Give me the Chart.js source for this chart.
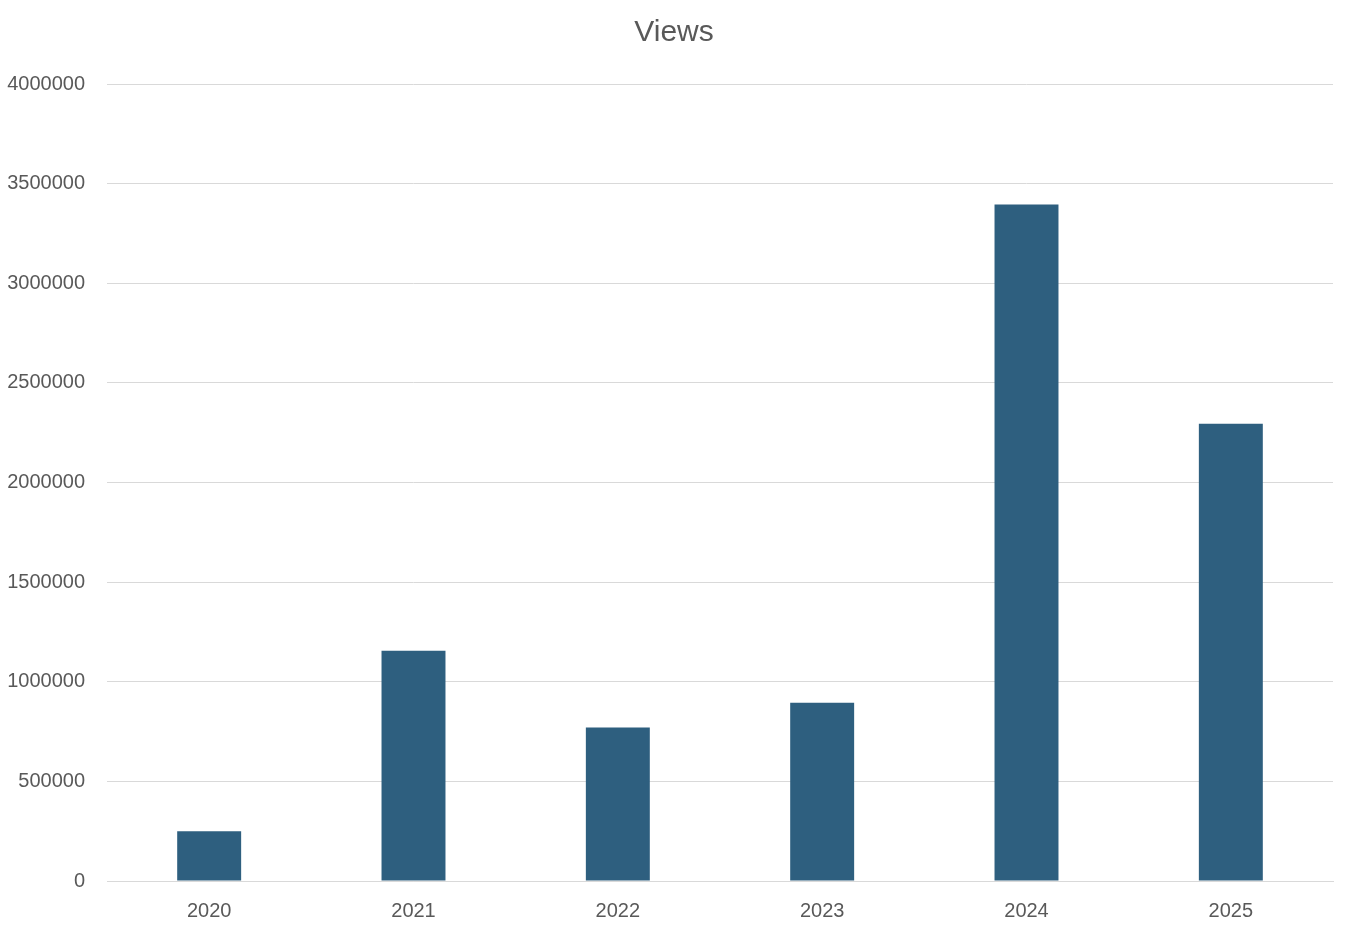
<!DOCTYPE html>
<html>
<head>
<meta charset="utf-8">
<script src="https://cdn.jsdelivr.net/npm/chart.js@4"></script>
<style>
  html, body { margin: 0; padding: 0; background: #fff; }
  #wrap { width: 1356px; height: 932px; }
</style>
</head>
<body>
<div id="wrap"><canvas id="myChart"></canvas></div>
<script>
const years = ['2020', '2021', '2022', '2023', '2024', '2025'];
const views = [250000, 1155000, 770000, 895000, 3395000, 2295000];

const ctx = document.getElementById('myChart').getContext('2d');
const chart = new Chart(ctx, {
    type: 'bar',
    data: {
        labels: years,
        datasets: [{
            label: 'Views',
            backgroundColor: '#2E5F7F',
            categoryPercentage: 1,
            barPercentage: 0.313,
            data: views
        }]
    },
    options: {
        responsive: true,
        maintainAspectRatio: false,
        animation: false,
        layout: { padding: { left: 0, right: 8, top: 0, bottom: 0 } },
        plugins: {
            legend: { display: false },
            tooltip: { enabled: false },
            title: {
                display: true,
                text: 'Views',
                color: '#595959',
                font: { family: 'Liberation Sans', size: 30, weight: 'normal', lineHeight: 1.2 },
                padding: { top: 15, bottom: 33 }
            }
        },
        scales: {
            x: {
                grid: { display: false },
                border: { display: true, color: '#D9D9D9', width: 1 },
                ticks: {
                    color: '#595959',
                    font: { family: 'Liberation Sans', size: 20 },
                    padding: 10,
                    maxRotation: 0
                },
                afterFit: (scale) => { scale.height = 51; }
            },
            y: {
                min: 0,
                max: 4000000,
                border: { display: false },
                grid: { color: '#D9D9D9', lineWidth: 1, drawTicks: false },
                ticks: {
                    stepSize: 500000,
                    color: '#595959',
                    font: { family: 'Liberation Sans', size: 20 },
                    padding: 22,
                    callback: (v) => String(v)
                },
                afterFit: (scale) => { scale.width = 107; }
            },
            // empty spacer on the right so the plot ends at the same place as the original
            yRight: {
                position: 'right',
                border: { display: false },
                grid: { display: false },
                ticks: { display: false },
                afterFit: (scale) => { scale.width = 15; }
            }
        }
    }
});
</script>
</body>
</html>
